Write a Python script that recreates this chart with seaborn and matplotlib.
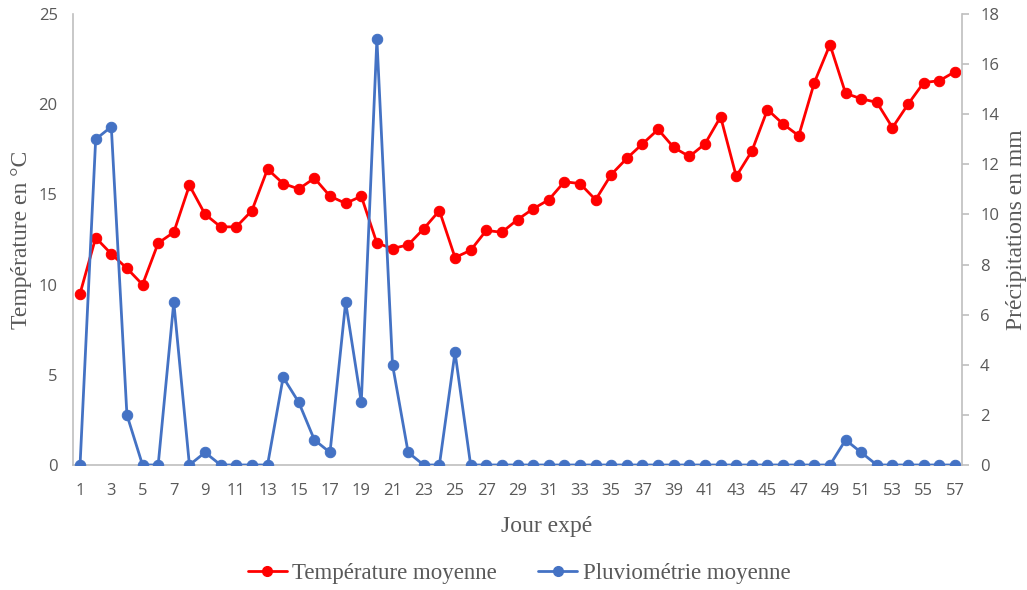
import matplotlib
matplotlib.use('Agg')
import matplotlib.pyplot as plt
import seaborn as sns
import pandas as pd
from matplotlib.lines import Line2D

# values
days = list(range(1, 58))
temperature = [9.5, 12.6, 11.7, 10.9, 10.0, 12.3, 12.9, 15.5, 13.9, 13.2,
               13.2, 14.1, 16.4, 15.6, 15.3, 15.9, 14.9, 14.5, 14.9, 12.3,
               12.0, 12.2, 13.1, 14.1, 11.5, 11.9, 13.0, 12.9, 13.6, 14.2,
               14.7, 15.7, 15.6, 14.7, 16.1, 17.0, 17.8, 18.6, 17.6, 17.1,
               17.8, 19.3, 16.0, 17.4, 19.7, 18.9, 18.25, 21.2, 23.3, 20.6,
               20.3, 20.1, 18.7, 20.0, 21.2, 21.3, 21.8]
rain = [0, 13, 13.5, 2, 0, 0, 6.5, 0, 0.5, 0,
        0, 0, 0, 3.5, 2.5, 1, 0.5, 6.5, 2.5, 17,
        4, 0.5, 0, 0, 4.5, 0, 0, 0, 0, 0,
        0, 0, 0, 0, 0, 0, 0, 0, 0, 0,
        0, 0, 0, 0, 0, 0, 0, 0, 0, 1,
        0.5, 0, 0, 0, 0, 0, 0]
x_ticks = list(range(1, 58, 2))

df = pd.DataFrame({'jour': days, 'temp': temperature, 'pluie': rain})

sns.set_style('white')
serif = ['Liberation Serif', 'DejaVu Serif']
tick_font = ['Open Sans', 'DejaVu Sans']
red = '#FF0000'
blue = '#4472C4'
grey_txt = '#595959'
grey_ax = '#BFBFBF'

fig = plt.figure(figsize=(10.27, 5.9), dpi=100)
ax = fig.add_axes([0.0711, 0.2119, 0.8656, 0.7644])
ax2 = ax.twinx()

sns.lineplot(data=df, x='jour', y='temp', ax=ax, color=red, linewidth=2,
             marker='o', markersize=7.5, markeredgecolor=red, legend=False)
sns.lineplot(data=df, x='jour', y='pluie', ax=ax2, color=blue, linewidth=2,
             marker='o', markersize=7.5, markeredgecolor=blue, legend=False)

ax.set_xlim(0.55, 57.45)
ax.set_ylim(0, 25)
ax2.set_ylim(0, 18)
ax.set_xticks(x_ticks)
ax.set_yticks(range(0, 26, 5))
ax2.set_yticks(range(0, 19, 2))

for a in (ax, ax2):
    for s in a.spines.values():
        s.set_visible(False)
ax.spines['left'].set_visible(True)
ax.spines['bottom'].set_visible(True)
ax2.spines['right'].set_visible(True)
for s in (ax.spines['left'], ax.spines['bottom'], ax2.spines['right']):
    s.set_color(grey_ax)
    s.set_linewidth(1.2)

ax.tick_params(axis='x', length=0, labelsize=12, labelcolor=grey_txt, pad=13)
ax.tick_params(axis='y', length=0, labelsize=12, labelcolor=grey_txt, pad=11)
ax2.tick_params(axis='y', length=5, color=grey_ax, width=1.2,
                labelsize=12, labelcolor=grey_txt, pad=8)
for lab in ax.get_xticklabels() + ax.get_yticklabels() + ax2.get_yticklabels():
    lab.set_family(tick_font)

ax.set_xlabel('Jour expé', fontsize=17, family=serif, color=grey_txt, va='center')
ax.set_ylabel('Température en °C', fontsize=17, family=serif, color=grey_txt, va='center')
ax2.set_ylabel('Précipitations en mm', fontsize=17, family=serif, color=grey_txt,
               va='center', rotation=90)
ax.xaxis.set_label_coords(0.533, -0.1375)
ax.yaxis.set_label_coords(-0.0574, 0.499)
ax2.yaxis.set_label_coords(1.0613, 0.521)
ax.grid(False)
ax2.grid(False)

handles = [Line2D([], [], color=red, marker='o', markersize=7, linewidth=2),
           Line2D([], [], color=blue, marker='o', markersize=7, linewidth=2)]
fig.legend(handles, ['Température moyenne', 'Pluviométrie moyenne'],
           loc='center', bbox_to_anchor=(0.5054, 0.028), ncol=2, frameon=False,
           prop={'family': serif, 'size': 16.5}, labelcolor=grey_txt,
           handlelength=1.7, handletextpad=0.25, columnspacing=1.8)

fig.savefig('out.png', dpi=100)
